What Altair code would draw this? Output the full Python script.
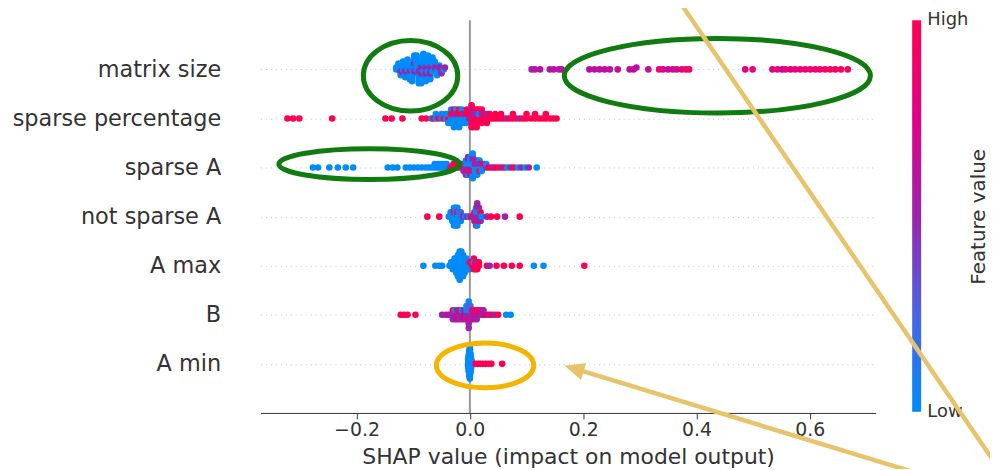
import numpy as np
import pandas as pd
import altair as alt

# ---------------- data ----------------
features = ["A min", "B", "A max", "not sparse A", "sparse A",
            "sparse percentage", "matrix size"]          # row 0 (bottom) .. 6 (top)

# each feature: SHAP value groups (x), number of samples in group (n), feature value 0..1 (c)
ms_x = [-0.130, -0.126, -0.122, -0.122, -0.118, -0.114, -0.114, -0.110, -0.106, -0.106,
        -0.102, -0.098, -0.098, -0.094, -0.090, -0.090, -0.086, -0.086, -0.082, -0.078,
        -0.078, -0.074, -0.070, -0.070, -0.066, -0.062, -0.062, -0.058, -0.054, -0.054,
        -0.050, -0.046, -0.044,
        0.109, 0.115, 0.124, 0.141, 0.148, 0.157, 0.162,
        0.211, 0.220, 0.229, 0.238, 0.247, 0.261, 0.282, 0.289, 0.294, 0.315,
        0.334, 0.341, 0.350, 0.358, 0.365, 0.374, 0.381, 0.387,
        0.486, 0.499,
        0.534, 0.543, 0.551, 0.557, 0.566, 0.574, 0.583, 0.592, 0.601, 0.610,
        0.618, 0.627, 0.636, 0.645, 0.655, 0.667]
ms_n = [2, 3, 3, 1, 4, 4, 1, 5, 5, 1,
        6, 6, 2, 7, 7, 1, 7, 2, 7, 6,
        2, 6, 5, 2, 5, 4, 1, 3, 2, 1,
        2, 1, 1,
        1, 1, 1, 1, 1, 1, 1,
        1, 1, 1, 1, 1, 1, 1, 1, 1, 1,
        1, 1, 1, 1, 1, 1, 1, 1,
        1, 1,
        1, 1, 1, 1, 1, 1, 1, 1, 1, 1,
        1, 1, 1, 1, 1, 1]
ms_c = [0, 0, 0, .5, 0, 0, .5, 0, 0, .5,
        0, 0, .5, 0, 0, .5, 0, .5, 0, 0,
        .5, 0, 0, .5, 0, 0, .5, 0, 0, .5,
        .5, 0, .5,
        .55, .55, .6, .55, .6, .55, .6,
        .6, .6, .6, .62, .6, .62, .6, .65, .6, .6,
        .88, .7, .6, .78, .62, .82, .88, .88,
        .8, .82,
        .75, .8, .65, .8, .75, .85, .8, .9, .85, .8,
        .9, .9, .95, .9, .95, .95]

sp_x = [-0.322, -0.312, -0.301, -0.243, -0.149, -0.138, -0.119, -0.085, -0.077,
        -0.068, -0.064, -0.060, -0.055, -0.050, -0.046, -0.042, -0.038, -0.038, -0.033,
        -0.033, -0.028, -0.028, -0.024, -0.024, -0.019, -0.019, -0.014, -0.014, -0.010,
        -0.010, -0.005, -0.005, -0.001, -0.001,
        0.003, 0.003, 0.007, 0.007, 0.012, 0.012, 0.016, 0.016, 0.021, 0.021,
        0.026, 0.030, 0.030, 0.035,
        0.040, 0.045, 0.050, 0.055, 0.060, 0.065, 0.070, 0.076, 0.082, 0.088,
        0.094, 0.100, 0.108, 0.115, 0.122, 0.128, 0.134, 0.141, 0.147, 0.153]
sp_n = [1, 1, 1, 1, 1, 1, 1, 1, 1,
        1, 1, 2, 1, 2, 1, 2, 1, 2, 3,
        1, 3, 2, 3, 1, 3, 2, 3, 1, 2,
        1, 2, 2, 1, 1,
        3, 1, 4, 1, 4, 1, 3, 1, 3, 1,
        2, 2, 1, 2,
        1, 2, 1, 2, 1, 1, 1, 2, 1, 1,
        1, 2, 1, 2, 1, 1, 2, 1, 1, 1]
sp_c = [1, 1, 1, 1, 1, 1, 1, 1, 1,
        0, 1, 0, 1, 0, 1, 0, 1, 0, 0,
        1, 0, 1, 0, .5, 0, 1, 0, 1, 0,
        .5, 0, 1, .5, 1,
        1, .5, 1, .5, 1, .5, 1, 0, 1, .5,
        1, 1, .5, 1,
        1, 1, 1, 1, 1, .5, 1, 1, 1, .5,
        1, 1, 1, 1, 1, 1, 1, 1, 1, 1]

sa_x = [-0.277, -0.268, -0.248, -0.233, -0.219, -0.206,
        -0.145, -0.136, -0.128, -0.113, -0.106, -0.099, -0.092, -0.085, -0.078, -0.072,
        -0.067, -0.062, -0.057, -0.053, -0.049, -0.045, -0.041,
        -0.034, -0.029, -0.024, -0.019, -0.015,
        -0.011, -0.011, -0.007, -0.007, -0.003, -0.003, -0.003, 0.001, 0.001, 0.005,
        0.005, 0.005, 0.009, 0.009, 0.013, 0.013, 0.017, 0.017, 0.017, 0.021,
        0.021, 0.025, 0.025, 0.029, 0.029,
        0.033, 0.038, 0.042, 0.046, 0.051, 0.056, 0.061, 0.066, 0.072, 0.078,
        0.085, 0.091, 0.098, 0.104, 0.118]
sa_n = [1, 1, 1, 1, 1, 1,
        1, 1, 1, 1, 1, 1, 1, 1, 1, 1,
        1, 2, 2, 2, 2, 2, 2,
        1, 2, 2, 2, 2,
        2, 1, 3, 2, 3, 2, 1, 3, 3, 3,
        4, 1, 3, 2, 3, 2, 2, 1, 1, 2,
        1, 1, 1, 1, 1,
        1, 1, 1, 1, 1, 1, 1, 1, 1, 1,
        1, 1, 1, 1, 1]
sa_c = [0, 0, 0, 0, 0, 0,
        0, 0, 0, 0, 0, 0, 0, 0, 0, 0,
        0, 0, 0, 0, 0, 0, 0,
        1, 1, 1, 1, 1,
        .5, 1, .5, 0, .5, 0, 1, .5, 0, .5,
        0, 1, 0, .5, 0, .5, 0, .5, 1, 0,
        .5, 0, 1, .5, 0,
        1, 1, .5, 1, 1, .5, 1, 0, .5, 1,
        0, .5, 0, .5, 0]

ns_x = [-0.075, -0.054,
        -0.037, -0.034, -0.031, -0.028, -0.028, -0.025, -0.022, -0.022, -0.019, -0.016,
        -0.016,
        -0.012, -0.008, -0.004, -0.001, 0.002,
        0.006, 0.008, 0.008, 0.011, 0.011, 0.013, 0.013, 0.013, 0.016, 0.016, 0.019,
        0.019, 0.021,
        0.030, 0.037, 0.048, 0.062, 0.088]
ns_n = [1, 1,
        1, 2, 3, 4, 1, 5, 4, 1, 3, 2,
        1,
        1, 1, 1, 1, 1,
        1, 2, 1, 3, 2, 3, 2, 1, 3, 1, 2,
        1, 1,
        1, 1, 1, 1, 1]
ns_c = [1, 1,
        0, 0, 0, 0, 1, 0, 0, 1, 0, 0,
        .25,
        .5, 0, .5, 0, 1,
        .5, .5, 1, .5, 0, .5, 0, 1, .5, 0, .5,
        1, 0,
        .5, 1, 1, .5, 1]

am_x = [-0.082, -0.061, -0.054, -0.049,
        -0.036, -0.033, -0.030, -0.027, -0.024, -0.021, -0.018, -0.015, -0.012, -0.009,
        -0.006, -0.003, 0.000, 0.000,
        0.004, 0.007, 0.007, 0.010, 0.013, 0.013, 0.016,
        0.030, 0.035, 0.047, 0.060, 0.074, 0.088, 0.113, 0.130, 0.202]
am_n = [1, 1, 1, 1,
        1, 2, 3, 4, 5, 7, 9, 8, 7, 5,
        4, 3, 2, 1,
        2, 3, 1, 3, 2, 1, 2,
        1, 1, 1, 1, 1, 1, 1, 1, 1]
am_c = [0, 0, 0, 0,
        0, 0, 0, 0, 0, 0, 0, 0, 0, 0,
        0, 0, 0, 1,
        1, 1, 0, 1, 1, .5, 1,
        1, .5, 1, 1, 1, 1, 0, 0, 1]

b_x = [-0.122, -0.116, -0.110, -0.096,
       -0.049, -0.043, -0.038, -0.034, -0.030, -0.030, -0.026, -0.026, -0.022, -0.022,
       -0.018, -0.018, -0.014, -0.014, -0.010, -0.010, -0.006, -0.006, -0.002, -0.002,
       -0.002, -0.002, 0.001, 0.001,
       0.004, 0.004, 0.008, 0.008, 0.012, 0.012, 0.016, 0.020, 0.020, 0.024, 0.028,
       0.032, 0.036, 0.040, 0.045, 0.050, 0.064, 0.072]
b_n = [1, 1, 1, 1,
       1, 1, 1, 1, 2, 1, 2, 1, 2, 1,
       2, 1, 2, 1, 2, 1, 2, 2, 3, 2,
       1, 1, 2, 2,
       2, 1, 2, 1, 2, 1, 2, 1, 1, 2, 1,
       1, 1, 1, 1, 1, 1, 1]
b_c = [1, 1, 1, 1,
       .5, .5, .75, .5, .5, 1, .5, 0, .75, .5,
       .5, 1, .5, 0, .75, .5, .5, 0, .5, 0,
       1, .25, .5, .25,
       .5, 1, .75, .5, .5, 1, .75, .5, 1, .5, .75,
       1, .5, 1, .5, 1, 0, 0]

amin_x = [-0.003, -0.002, -0.001, 0.000, 0.001, 0.002, 0.003,
          0.010, 0.014, 0.018, 0.023, 0.028, 0.033, 0.038, 0.057]
amin_n = [6, 12, 18, 22, 14, 8, 4,
          1, 1, 1, 1, 1, 1, 1, 1]
amin_c = [0, 0, 0, 0, 0, 0, 0,
          1, 1, 1, 1, 1, 1, 1, 1]

feature_data = {
    "matrix size": (ms_x, ms_n, ms_c),
    "sparse percentage": (sp_x, sp_n, sp_c),
    "sparse A": (sa_x, sa_n, sa_c),
    "not sparse A": (ns_x, ns_n, ns_c),
    "A max": (am_x, am_n, am_c),
    "B": (b_x, b_n, b_c),
    "A min": (amin_x, amin_n, amin_c),
}

# colour map (SHAP red_blue)
cmap_domain = [0, 0.25, 0.5, 0.75, 1]
cmap_range = ["#008bfb", "#4a63e3", "#9b24ad", "#e00086", "#ff0051"]

# annotations (centre in data units, half axes in px)
ell_x = [-0.1047, 0.4368, -0.1775, 0.0268]
ell_y = [5.872, 5.872, 4.069, -0.032]
ell_rx = [47.5, 154.0, 91.0, 49.0]
ell_ry = [35.5, 37.5, 15.5, 22.5]
ell_col = ["#107c10", "#107c10", "#107c10", "#f4b400"]

line_x = [0.3635, 0.7844]
line_y = [7.492, -2.209]
line_x2 = [0.9356, 0.1907]
line_y2 = [-2.169, -0.119]
arrow_x = [0.1672]
arrow_y = [-0.036]
arrow_angle = [287]
tan = "#e7c46b"


# ---------------- beeswarm layout (as SHAP does it) ----------------
def swarm(xs, ns, cs, row, nbins=100, row_height=0.4):
    pts = []
    for g, (x, n, c) in enumerate(zip(xs, ns, cs)):
        for k in range(n):
            pts.append((x, c, k, g))
    v = np.array([p[0] for p in pts], float)
    quant = np.round(nbins * (v - v.min()) / (v.max() - v.min() + 1e-8))
    order = sorted(range(len(pts)), key=lambda i: (quant[i], pts[i][2], pts[i][3]))
    ys = np.zeros(len(pts))
    layer, last = 0, None
    for i in order:
        if quant[i] != last:
            layer = 0
        ys[i] = np.ceil(layer / 2) * ((layer % 2) * 2 - 1)
        layer += 1
        last = quant[i]
    ys *= 0.9 * (row_height / np.max(ys + 1))
    return pd.DataFrame({"x": v, "y": row + ys, "v": [p[1] for p in pts]})


frames = [swarm(*feature_data[f], features.index(f)) for f in features]
pts = pd.concat(frames, ignore_index=True)


def ellipse_path(k):
    c = 0.5523
    ck = c * k
    return (f"M -1 0 C -1 {-ck:.4f} {-c} {-k:.4f} 0 {-k:.4f} "
            f"C {c} {-k:.4f} 1 {-ck:.4f} 1 0 "
            f"C 1 {ck:.4f} {c} {k:.4f} 0 {k:.4f} "
            f"C {-c} {k:.4f} -1 {ck:.4f} -1 0 Z")


ell = pd.DataFrame({
    "x": ell_x, "y": ell_y, "col": ell_col,
    "path": [ellipse_path(ry / rx) for rx, ry in zip(ell_rx, ell_ry)],
    "size": [(2 * rx) ** 2 for rx in ell_rx],
})
lines = pd.DataFrame({"x": line_x, "y": line_y, "x2": line_x2, "y2": line_y2})
arrow = pd.DataFrame({"x": arrow_x, "y": arrow_y, "a": arrow_angle})

# ---------------- chart ----------------
W, H = 619, 395
xscale = alt.Scale(domain=[-0.3696, 0.7163], nice=False, zero=False)
yscale = alt.Scale(domain=[-1, 7], nice=False, zero=False)

label_js = "[" + ",".join(f"'{f}'" for f in features) + "]"

xaxis = alt.Axis(values=[-0.2, 0, 0.2, 0.4, 0.6], format=".1f",
                 title="SHAP value (impact on model output)",
                 labelFontSize=19, labelColor="#333", tickColor="#333",
                 domainColor="#333", tickSize=6, labelPadding=2, grid=False,
                 titleFontSize=22, titleFontWeight="normal", titleColor="#333",
                 titleX=W / 2, titleY=51, titleAlign="center",
                 titleBaseline="alphabetic")
yaxis = alt.Axis(values=list(range(7)), labelExpr=label_js + "[datum.value]",
                 title=None, domain=False, ticks=False, tickSize=0,
                 labelPadding=40, labelFontSize=22.5, labelColor="#333",
                 labelLimit=400,
                 grid=True, gridDash=[1, 4], gridColor="#c4c4c4", gridWidth=1)

zero = alt.Chart(pd.DataFrame({"x": [0]})).mark_rule(
    color="#999999", strokeWidth=2).encode(
    x=alt.X("x:Q", scale=xscale, axis=xaxis))

dots = alt.Chart(pts).mark_circle(size=44, opacity=1).encode(
    x=alt.X("x:Q", scale=xscale, axis=xaxis),
    y=alt.Y("y:Q", scale=yscale, axis=yaxis),
    color=alt.Color("v:Q", scale=alt.Scale(domain=cmap_domain, range=cmap_range),
                    legend=None),
)

cbar = alt.Chart(pd.DataFrame({"x": [0.7807], "x2": [0.7965],
                               "y": [-0.975], "y2": [7.0]})).mark_rect(
    fill={"gradient": "linear", "x1": 0, "y1": 1, "x2": 0, "y2": 0,
          "stops": [{"offset": o, "color": c} for o, c in zip(cmap_domain, cmap_range)]}
).encode(x="x:Q", x2="x2:Q", y="y:Q", y2="y2:Q")

cb_text = alt.Chart(pd.DataFrame({"x": [0.8075, 0.8075], "y": [7.0, -0.975],
                                  "t": ["High", "Low"]})).mark_text(
    align="left", baseline="middle", fontSize=18, color="#333").encode(
    x="x:Q", y="y:Q", text="t:N")

cb_title = alt.Chart(pd.DataFrame({"x": [0.8988], "y": [2.996],
                                   "t": ["Feature value"]})).mark_text(
    align="center", baseline="middle", fontSize=20, angle=270, color="#333").encode(
    x="x:Q", y="y:Q", text="t:N")

ellipses = alt.Chart(ell).mark_point(filled=False, opacity=1, strokeWidth=5).encode(
    x="x:Q", y="y:Q",
    shape=alt.Shape("path:N", scale=None),
    size=alt.Size("size:Q", scale=None),
    stroke=alt.Color("col:N", scale=None),
)

tan_lines = alt.Chart(lines).mark_rule(color=tan, strokeWidth=4.5).encode(
    x="x:Q", y="y:Q", x2="x2:Q", y2="y2:Q")

head = alt.Chart(arrow).mark_point(filled=True, opacity=1, color=tan,
                                   shape="M 0 0 L 0.45 1 L -0.45 1 Z",
                                   size=1600).encode(
    x="x:Q", y="y:Q", angle=alt.Angle("a:Q", scale=None))

chart = alt.layer(zero, dots, cbar, cb_text, cb_title, ellipses, tan_lines, head).properties(
    width=W, height=H,
    padding={"left": 254, "top": 11, "right": 115, "bottom": 55},
    autosize=alt.AutoSizeParams(type="none"),
).configure(font="DejaVu Sans").configure_view(strokeWidth=0)

chart.save("out.html", embed_options={"renderer": "svg", "actions": False})
